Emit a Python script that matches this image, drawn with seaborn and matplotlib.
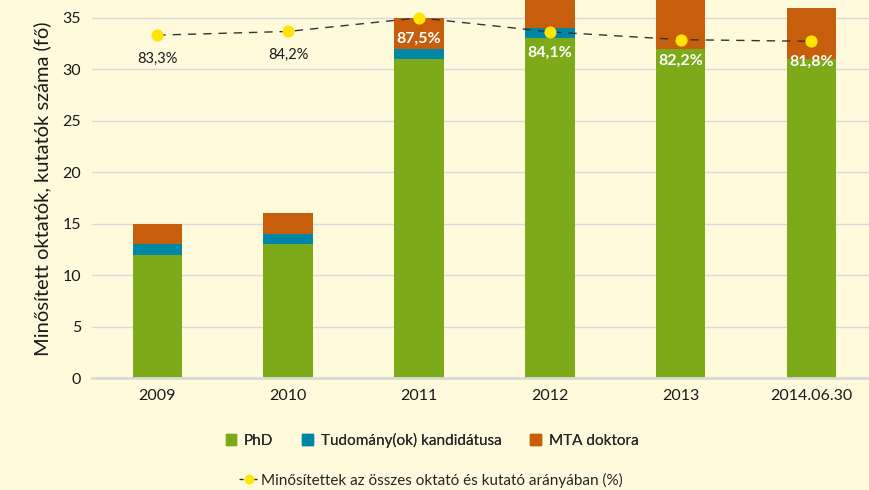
import numpy as np
import pandas as pd
import matplotlib.pyplot as plt
import seaborn as sns
from matplotlib.patches import Patch
from matplotlib.lines import Line2D

# -------------------------------------
# Data
# -------------------------------------
years = ["2009", "2010", "2011", "2012", "2013", "2014.06.30"]
phd = [12, 13, 31, 33, 32, 31]
kandidatus = [1, 1, 1, 1, 0, 0]
mta_doktor = [2, 2, 3, 4, 5, 5]
arany = [83.3, 84.2, 87.5, 84.1, 82.2, 81.8]
arany_labels = ["83,3%", "84,2%", "87,5%", "84,1%", "82,2%", "81,8%"]

C_PHD = "#7DAA18"
C_KAND = "#0087A6"
C_MTA = "#C65E0C"
C_BG = "#FFFADC"

df = pd.DataFrame({"ev": years, "phd": phd, "kand": kandidatus, "mta": mta_doktor})
df["phd_kand"] = df["phd"] + df["kand"]
df["osszes"] = df["phd_kand"] + df["mta"]

sns.set_style("white")
plt.rcParams["font.family"] = ["Lato", "DejaVu Sans"]

fig = plt.figure(figsize=(8.69, 4.90), dpi=100, facecolor=C_BG)
ax = fig.add_axes([92 / 869, 1 - 378 / 490, 1 - 92 / 869, 378 / 490])
ax.set_facecolor(C_BG)

# stacked bars: draw totals first, then smaller stacks on top
bw = 0.38
for col, c in [("osszes", C_MTA), ("phd_kand", C_KAND), ("phd", C_PHD)]:
    sns.barplot(data=df, x="ev", y=col, color=c, width=bw, ax=ax,
                saturation=1, linewidth=0, zorder=2)

ytop = 378 / 10.29
ax.set_ylim(0, ytop)
ax.set_xlim(-0.5, 5.44)
ax.set_yticks(range(0, 36, 5))
ax.grid(axis="y", color="#D9D9D9", lw=1, zorder=0)
ax.set_axisbelow(True)
for s in ["top", "right", "left"]:
    ax.spines[s].set_visible(False)
ax.spines["bottom"].set_color("#D9D9D9")
ax.spines["bottom"].set_linewidth(2)
ax.tick_params(axis="both", length=0, labelsize=11.5, colors="#1a1a1a", pad=8)
ax.set_xlabel("")
ax.set_ylabel("Minősített oktatók, kutatók száma (fő)", fontsize=14.5, color="#1a1a1a", labelpad=8)

# secondary axis for the percentage line (hidden)
ax2 = ax.twinx()
ax2.set_ylim(0, ytop * 2.5)
ax2.axis("off")
sns.lineplot(x=years, y=arany, ax=ax2, sort=False, color="#333333", lw=1,
             linestyle=(0, (6, 5)), marker="o", markersize=8,
             markerfacecolor="#FFE500", markeredgecolor="#FFE500", zorder=5)

for i, (v, lab) in enumerate(zip(arany, arany_labels)):
    if i < 2:
        ax2.annotate(lab, (i, v), xytext=(0, -17), textcoords="offset points",
                     ha="center", va="center", fontsize=10.5, color="#1a1a1a")
    else:
        ax2.annotate(lab, (i, v), xytext=(0, -15), textcoords="offset points",
                     ha="center", va="center", fontsize=11.5, color="white", fontweight="bold")

# legends
h1 = [Patch(color=C_PHD), Patch(color=C_KAND), Patch(color=C_MTA)]
leg1 = fig.legend(h1, ["PhD", "Tudomány(ok) kandidátusa", "MTA doktora"], ncol=3,
                  loc="center", bbox_to_anchor=(432 / 869, 1 - 440 / 490), frameon=False,
                  fontsize=11, handlelength=0.7, handleheight=0.7, handletextpad=0.5,
                  columnspacing=1.9)
h2 = [Line2D([0], [0], color="#333333", lw=1, linestyle=(0, (3, 2)), marker="o",
             markersize=6, markerfacecolor="#FFE500", markeredgecolor="#FFE500")]
fig.legend(h2, ["Minősítettek az összes oktató és kutató arányában (%)"],
           loc="center", bbox_to_anchor=(431 / 869, 1 - 480 / 490), frameon=False,
           fontsize=11, handlelength=1.2, handletextpad=0.2)
fig.add_artist(leg1)

fig.savefig("out.png", dpi=100, facecolor=C_BG)
